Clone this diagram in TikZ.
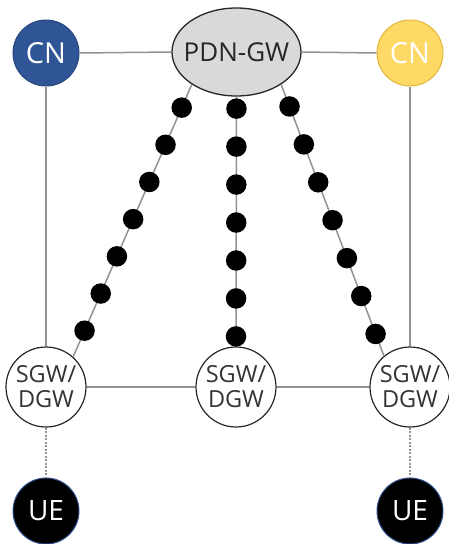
\documentclass[tikz,border=0pt]{standalone}
\usepackage{fontspec}
\setmainfont{Open Sans}
\usetikzlibrary{shapes.geometric,calc}
\definecolor{cnblue}{HTML}{2F5597}
\definecolor{cnblueb}{HTML}{28477F}
\definecolor{cnyellow}{HTML}{FFD966}
\definecolor{cnyellowb}{HTML}{E2B83C}
\definecolor{linkgray}{HTML}{929292}
\definecolor{pdnfill}{HTML}{D9D9D9}
\definecolor{uebord}{HTML}{2F4F8F}
\tikzset{
  cnnode/.style={circle,minimum size=66pt,inner sep=0pt,line width=1pt,text=white,font=\fontsize{29}{30}\selectfont},
  pdnnode/.style={ellipse,minimum width=129pt,minimum height=88pt,inner sep=0pt,draw=black!85,line width=1.3pt,fill=pdnfill,text=black!85,font=\fontsize{26}{28}\selectfont},
  gwnode/.style={circle,minimum size=80pt,inner sep=0pt,draw=black!85,line width=1.2pt,fill=white,text=black!80,align=center,font=\fontsize{23.5}{25}\selectfont},
  uenode/.style={circle,minimum size=66pt,inner sep=0pt,fill=black,draw=uebord,line width=1pt,text=white,font=\fontsize{28}{30}\selectfont},
  link/.style={draw=linkgray,line width=1.5pt},
  uelink/.style={draw=linkgray,line width=1.1pt,dash pattern=on 2pt off 1.5pt},
  dotnode/.style={circle,fill=black,minimum size=20.5pt,inner sep=0pt}
}
\begin{document}
\begin{tikzpicture}[x=1pt,y=-1pt]
\useasboundingbox (0,0) rectangle (449,544);
% nodes
\node[cnnode,fill=cnblue,draw=cnblueb] (cnL) at (46,53) {CN};
\node[cnnode,fill=cnyellow,draw=cnyellowb] (cnR) at (410,53) {CN};
\node[pdnnode] (pdn) at (236.5,52) {\makebox[0pt]{PDN-GW}};
\node[gwnode] (sgwL) at (46,387) {SGW/\\DGW};
\node[gwnode] (sgwM) at (236,387) {SGW/\\DGW};
\node[gwnode] (sgwR) at (410,387) {SGW/\\DGW};
\node[uenode] (ueL) at (46,511) {UE};
\node[uenode] (ueR) at (410,511) {UE};
% solid links
\draw[link] (cnL.east) -- (pdn.west);
\draw[link] (pdn.east) -- (cnR.west);
\draw[link] (cnL.south) -- (sgwL.north);
\draw[link] (cnR.south) -- (sgwR.north);
\draw[link] (sgwL.east) -- (sgwM.west);
\draw[link] (sgwM.east) -- (sgwR.west);
% dotted UE links
\draw[uelink] (sgwL.south) -- (ueL.north);
\draw[uelink] (sgwR.south) -- (ueR.north);
% bearer chains
\draw[link] (pdn.216) -- (sgwL.48);
\draw[link] (pdn.south) -- (sgwM.north);
\draw[link] (pdn.324) -- (sgwR.130);
\foreach \i [evaluate=\i as \p using 0.085+\i*0.1365] in {0,...,6}
  \node[dotnode] (dL\i) at ($(pdn.216)!\p!(sgwL.48)$) {};
\foreach \i [evaluate=\i as \p using 0.048+\i*0.152] in {0,...,6}
  \node[dotnode] (dM\i) at ($(pdn.south)!\p!(sgwM.north)$) {};
\foreach \i [evaluate=\i as \p using 0.081+\i*0.1397] in {0,...,6}
  \node[dotnode] (dR\i) at ($(pdn.324)!\p!(sgwR.130)$) {};
\end{tikzpicture}
\end{document}
